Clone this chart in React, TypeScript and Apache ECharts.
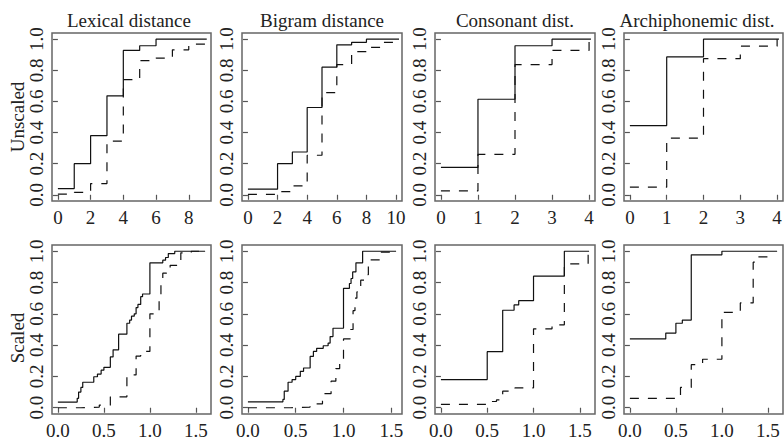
import React, { useEffect, useRef } from "react";
import * as echarts from "echarts";

// ---- texts & ticks ----
const panelTitles = ["Lexical distance", "Bigram distance", "Consonant dist.", "Archiphonemic dist."];
const rowLabels = ["Unscaled", "Scaled"];
const yTicks = [0, 0.2, 0.4, 0.6, 0.8, 1.0];
const xTicksLex = [0, 2, 4, 6, 8];
const xTicksBigram = [0, 2, 4, 6, 8, 10];
const xTicksPhon = [0, 1, 2, 3, 4];
const xTicksScaled = [0, 0.5, 1.0, 1.5];

// ---- data: ECDF steps [x, value from x onward] ----
const lexUnscaledSolid = [[0, 0.04], [1, 0.2], [2, 0.38], [3, 0.636], [4, 0.928], [5, 0.958], [6, 1.0], [9.1, 1.0]];
const lexUnscaledDashed = [[0, 0.004], [1, 0.015], [2, 0.072], [3, 0.345], [4, 0.74], [5, 0.862], [6, 0.879], [7, 0.932], [8, 0.968], [9, 0.995], [9.1, 1.0]];

const bigUnscaledSolid = [[0, 0.036], [2, 0.2], [3, 0.275], [4, 0.561], [5, 0.82], [6, 0.964], [7, 0.98], [8, 1.0], [10.2, 1.0]];
const bigUnscaledDashed = [[0, 0.003], [2, 0.02], [3, 0.057], [4, 0.254], [5, 0.657], [6, 0.837], [7, 0.92], [8, 0.947], [9, 0.98], [10, 1.0]];

const conUnscaledSolid = [[0, 0.176], [1, 0.614], [2, 0.958], [3, 1.0], [4.05, 1.0]];
const conUnscaledDashed = [[0, 0.025], [1, 0.26], [2, 0.837], [3, 0.928], [4, 1.0]];

const arcUnscaledSolid = [[0, 0.445], [1, 0.886], [2, 1.0], [4.05, 1.0]];
const arcUnscaledDashed = [[0, 0.049], [1, 0.364], [2, 0.875], [3, 0.955], [4, 1.0]];

const lexScaledSolid = [[0, 0.036], [0.21, 0.06], [0.225, 0.1], [0.25, 0.13], [0.27, 0.163], [0.39, 0.198], [0.43, 0.215], [0.47, 0.24], [0.5, 0.258], [0.57, 0.325], [0.6, 0.37], [0.66, 0.47], [0.75, 0.54], [0.78, 0.56], [0.8, 0.585], [0.83, 0.6], [0.85, 0.64], [0.87, 0.66], [0.9, 0.71], [0.92, 0.727], [1.0, 0.926], [1.14, 0.943], [1.17, 0.96], [1.2, 0.985], [1.27, 1.0], [1.6, 1.0]];
const lexScaledDashed = [[0, 0.0], [0.25, 0.004], [0.45, 0.017], [0.57, 0.07], [0.75, 0.21], [0.85, 0.33], [0.9, 0.36], [1.0, 0.6], [1.1, 0.7], [1.12, 0.8], [1.14, 0.86], [1.18, 0.88], [1.22, 0.91], [1.336, 0.99], [1.45, 1.0], [1.6, 1.0]];

const bigScaledSolid = [[0, 0.038], [0.366, 0.053], [0.38, 0.106], [0.42, 0.163], [0.462, 0.18], [0.5, 0.2], [0.548, 0.233], [0.582, 0.254], [0.651, 0.328], [0.685, 0.36], [0.719, 0.38], [0.788, 0.396], [0.839, 0.413], [0.86, 0.455], [0.89, 0.508], [1.0, 0.763], [1.062, 0.794], [1.079, 0.826], [1.096, 0.868], [1.13, 0.926], [1.2, 1.0], [1.55, 1.0]];
const bigScaledDashed = [[0, 0.0], [0.45, 0.004], [0.65, 0.025], [0.78, 0.09], [0.87, 0.17], [0.92, 0.25], [0.96, 0.31], [1.0, 0.44], [1.07, 0.5], [1.1, 0.62], [1.12, 0.7], [1.14, 0.74], [1.18, 0.815], [1.22, 0.85], [1.26, 0.945], [1.38, 0.995], [1.55, 1.0]];

const conScaledSolid = [[0, 0.18], [0.5, 0.358], [0.667, 0.623], [0.79, 0.657], [0.84, 0.684], [1.0, 0.841], [1.333, 1.0], [1.6, 1.0]];
const conScaledDashed = [[0, 0.021], [0.5, 0.04], [0.6, 0.05], [0.667, 0.106], [0.8, 0.127], [1.0, 0.504], [1.2, 0.53], [1.333, 0.92], [1.59, 1.0]];

const arcScaledSolid = [[0, 0.44], [0.39, 0.477], [0.5, 0.54], [0.57, 0.56], [0.667, 0.977], [1.0, 1.0], [1.6, 1.0]];
const arcScaledDashed = [[0, 0.06], [0.49, 0.075], [0.55, 0.13], [0.667, 0.275], [0.79, 0.31], [1.0, 0.61], [1.2, 0.67], [1.34, 0.93], [1.4, 0.964], [1.5, 1.0]];

const FONT = '"Liberation Serif", "DejaVu Serif", serif';
const TEXT_COLOR = "#222";

export default function App() {
  const ref = useRef<HTMLDivElement>(null);

  useEffect(() => {
    if (!ref.current) return;
    const chart = echarts.init(ref.current, null, { renderer: "svg" });

    const cols = [
      { left: 52, width: 159 },
      { left: 242, width: 160 },
      { left: 435, width: 160 },
      { left: 624, width: 159 },
    ];
    const rows = [
      { top: 33, height: 168 },
      { top: 245, height: 169 },
    ];
    const panels = [
      { r: 0, c: 0, min: -0.36, max: 9.36, ticks: xTicksLex, dec: 0, solid: lexUnscaledSolid, dashed: lexUnscaledDashed },
      { r: 0, c: 1, min: -0.4, max: 10.4, ticks: xTicksBigram, dec: 0, solid: bigUnscaledSolid, dashed: bigUnscaledDashed },
      { r: 0, c: 2, min: -0.16, max: 4.16, ticks: xTicksPhon, dec: 0, solid: conUnscaledSolid, dashed: conUnscaledDashed },
      { r: 0, c: 3, min: -0.16, max: 4.16, ticks: xTicksPhon, dec: 0, solid: arcUnscaledSolid, dashed: arcUnscaledDashed },
      { r: 1, c: 0, min: -0.064, max: 1.664, ticks: xTicksScaled, dec: 1, solid: lexScaledSolid, dashed: lexScaledDashed },
      { r: 1, c: 1, min: -0.062, max: 1.612, ticks: xTicksScaled, dec: 1, solid: bigScaledSolid, dashed: bigScaledDashed },
      { r: 1, c: 2, min: -0.064, max: 1.664, ticks: xTicksScaled, dec: 1, solid: conScaledSolid, dashed: conScaledDashed },
      { r: 1, c: 3, min: -0.064, max: 1.664, ticks: xTicksScaled, dec: 1, solid: arcScaledSolid, dashed: arcScaledDashed },
    ];

    const labelStyle = { fontFamily: FONT, fontSize: 19, color: TEXT_COLOR };
    const tickStyle = { color: "#555", width: 1.2 };

    const grid = panels.map((p) => ({
      left: cols[p.c].left,
      top: rows[p.r].top,
      width: cols[p.c].width,
      height: rows[p.r].height,
      show: true,
      borderColor: "#666",
      borderWidth: 1.5,
      backgroundColor: "transparent",
      containLabel: false,
      outerBoundsMode: "none",
    }));

    const xAxis = panels.map((p, i) => ({
      type: "value",
      gridIndex: i,
      min: p.min,
      max: p.max,
      splitLine: { show: false },
      axisLine: { show: false },
      axisTick: { show: true, length: 5, inside: false, customValues: p.ticks, lineStyle: tickStyle },
      axisLabel: {
        ...labelStyle,
        margin: 7,
        customValues: p.ticks,
        formatter: (v: number) => v.toFixed(p.dec),
      },
    }));

    const yAxis = panels.map((p, i) => ({
      type: "value",
      gridIndex: i,
      min: -0.04,
      max: 1.04,
      splitLine: { show: false },
      axisLine: { show: false },
      axisTick: { show: true, length: 5, inside: false, customValues: yTicks, lineStyle: tickStyle },
      axisLabel: {
        ...labelStyle,
        rotate: 90,
        margin: 6,
        customValues: yTicks,
        formatter: (v: number) => v.toFixed(1),
      },
    }));

    const series: any[] = [];
    panels.forEach((p, i) => {
      series.push({
        type: "line",
        xAxisIndex: i,
        yAxisIndex: i,
        data: p.solid,
        step: "end",
        showSymbol: false,
        silent: true,
        lineStyle: { color: "#111", width: 1.2, type: "solid" },
      });
      series.push({
        type: "line",
        xAxisIndex: i,
        yAxisIndex: i,
        data: p.dashed,
        step: "end",
        showSymbol: false,
        silent: true,
        lineStyle: { color: "#111", width: 1.2, type: [9, 9] },
      });
    });

    const titleX = [129, 322, 515, 697];
    const graphic: any[] = [];
    panelTitles.forEach((t, i) => {
      graphic.push({
        type: "text",
        x: titleX[i],
        y: 20,
        silent: true,
        style: {
          text: t,
          font: `19px ${FONT}`,
          fill: TEXT_COLOR,
          align: "center",
          verticalAlign: "middle",
          textAlign: "center",
          textVerticalAlign: "middle",
        },
      });
    });
    const rowY = [117, 338];
    rowLabels.forEach((t, i) => {
      graphic.push({
        type: "text",
        x: 17.5,
        y: rowY[i],
        rotation: Math.PI / 2,
        silent: true,
        style: {
          text: t,
          font: `19px ${FONT}`,
          fill: TEXT_COLOR,
          align: "center",
          verticalAlign: "middle",
          textAlign: "center",
          textVerticalAlign: "middle",
        },
      });
    });

    chart.setOption({
      animation: false,
      backgroundColor: "#fff",
      grid,
      xAxis,
      yAxis,
      series,
      graphic,
    } as any);

    return () => chart.dispose();
  }, []);

  return <div ref={ref} style={{ position: "fixed", left: 0, top: 0, width: 784, height: 443 }} />;
}
